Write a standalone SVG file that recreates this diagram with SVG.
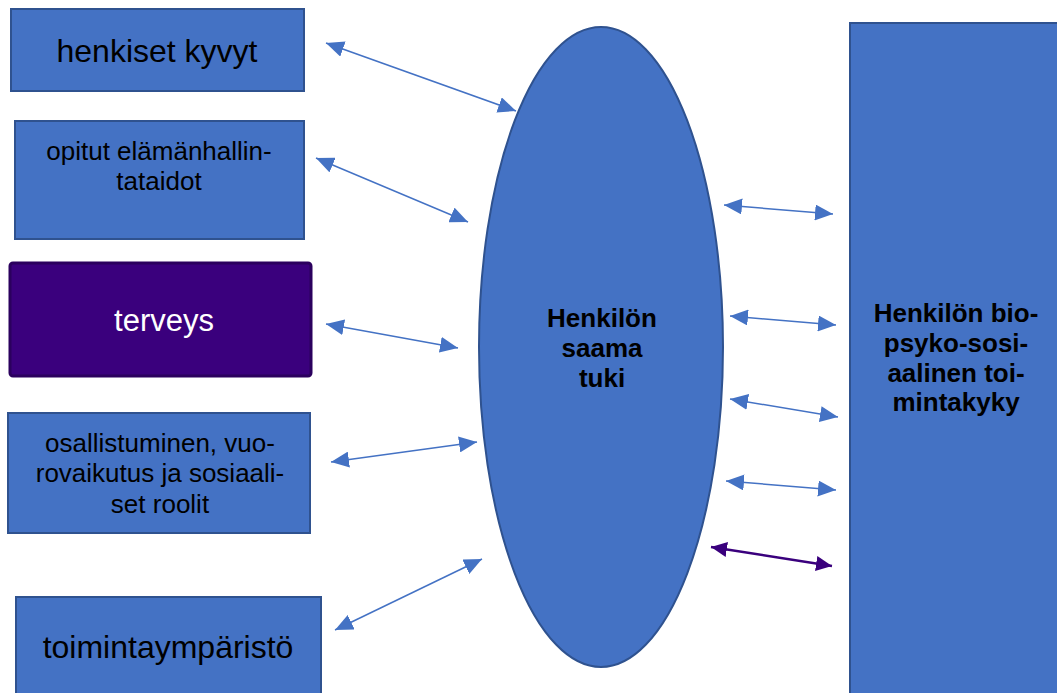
<svg xmlns="http://www.w3.org/2000/svg" width="1057" height="693" viewBox="0 0 1057 693">
  <style>
    .box { fill: #4472C4; stroke: #2F528F; stroke-width: 2; }
    .dark { fill: #3A007D; stroke: #2B005E; stroke-width: 3; }
    .lbl { font-family: "Liberation Sans", Arial, sans-serif; fill: #000; text-anchor: middle; }
    .bold { font-weight: bold; font-size: 26px; }
    .link { fill: none; stroke: #4472C4; stroke-width: 1.5; marker-start: url(#head); marker-end: url(#head); }
    .link-dark { fill: none; stroke: #3A007D; stroke-width: 2.5; marker-start: url(#headDark); marker-end: url(#headDark); }
  </style>
  <defs>
    <marker id="head" viewBox="0 0 18 16" refX="18" refY="8" markerWidth="18" markerHeight="16" markerUnits="userSpaceOnUse" orient="auto-start-reverse">
      <path d="M0,0 L18,8 L0,16 z" fill="#4472C4"/>
    </marker>
    <marker id="headDark" viewBox="0 0 16 15" refX="16" refY="7.5" markerWidth="16" markerHeight="15" markerUnits="userSpaceOnUse" orient="auto-start-reverse">
      <path d="M0,0 L16,7.5 L0,15 z" fill="#3A007D"/>
    </marker>
  </defs>

  <rect width="1057" height="693" fill="#fff"/>

  <g id="henkiset-kyvyt">
    <rect class="box" x="11" y="9" width="293" height="82"/>
    <text class="lbl" x="157" y="62" font-size="32">henkiset kyvyt</text>
  </g>

  <g id="elamanhallintataidot">
    <rect class="box" x="15" y="121" width="289" height="118"/>
    <text class="lbl" x="159" y="160" font-size="26">opitut elämänhallin-</text>
    <text class="lbl" x="159" y="190" font-size="26">tataidot</text>
  </g>

  <g id="terveys">
    <rect class="dark" x="10" y="263" width="301" height="113" rx="3"/>
    <text class="lbl" x="164" y="331" font-size="31" style="fill:#fff">terveys</text>
  </g>

  <g id="osallistuminen">
    <rect class="box" x="8" y="413" width="302" height="120"/>
    <text class="lbl" x="160" y="452" font-size="26">osallistuminen, vuo-</text>
    <text class="lbl" x="160" y="482" font-size="26">rovaikutus ja sosiaali-</text>
    <text class="lbl" x="160" y="513" font-size="26">set roolit</text>
  </g>

  <g id="toimintaymparisto">
    <rect class="box" x="16" y="597" width="305" height="110"/>
    <text class="lbl" x="168" y="658" font-size="32">toimintaympäristö</text>
  </g>

  <g id="saama-tuki">
    <ellipse class="box" cx="601" cy="347" rx="122" ry="320"/>
    <text class="lbl bold" x="602" y="327">Henkilön</text>
    <text class="lbl bold" x="602" y="357">saama</text>
    <text class="lbl bold" x="602" y="387">tuki</text>
  </g>

  <g id="toimintakyky">
    <rect class="box" x="850" y="23" width="215" height="680"/>
    <text class="lbl bold" x="956" y="322">Henkilön bio-</text>
    <text class="lbl bold" x="956" y="352">psyko-sosi-</text>
    <text class="lbl bold" x="956" y="382">aalinen toi-</text>
    <text class="lbl bold" x="956" y="411">mintakyky</text>
  </g>

  <g id="connectors">
    <line class="link" x1="326" y1="43" x2="516" y2="111"/>
    <line class="link" x1="316" y1="158" x2="468" y2="222"/>
    <line class="link" x1="326" y1="324" x2="458" y2="348"/>
    <line class="link" x1="331" y1="462" x2="477" y2="442"/>
    <line class="link" x1="335" y1="630" x2="482" y2="559"/>
    <line class="link" x1="724" y1="205" x2="833" y2="214"/>
    <line class="link" x1="730" y1="316" x2="836" y2="325"/>
    <line class="link" x1="730" y1="399" x2="838" y2="417"/>
    <line class="link" x1="726" y1="481" x2="836" y2="490"/>
    <line class="link-dark" x1="711" y1="547" x2="832" y2="566"/>
  </g>
</svg>
